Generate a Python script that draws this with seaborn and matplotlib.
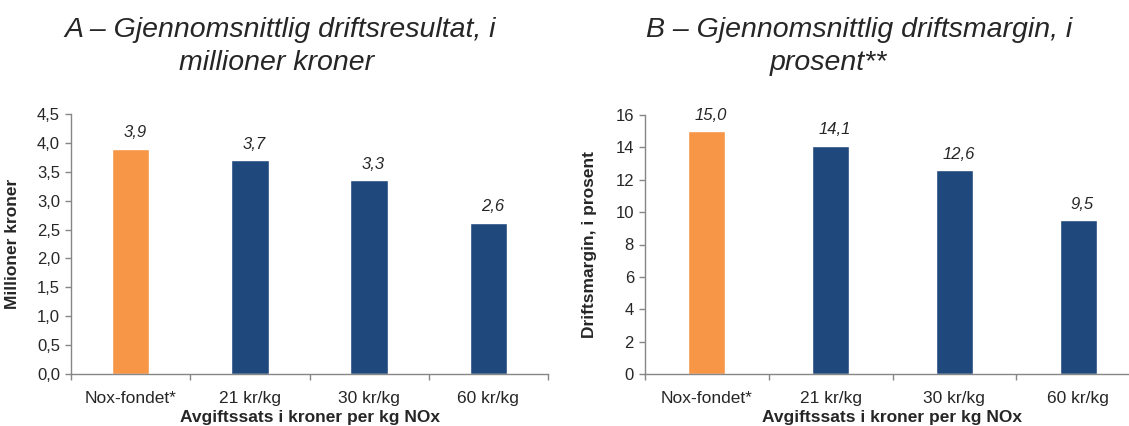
import matplotlib
matplotlib.use("Agg")
import matplotlib.pyplot as plt
import seaborn as sns
import pandas as pd

categories = ["Nox-fondet*", "21 kr/kg", "30 kr/kg", "60 kr/kg"]
resultat = [3.9, 3.7, 3.35, 2.62]
resultat_labels = ["3,9", "3,7", "3,3", "2,6"]
margin = [15.0, 14.1, 12.6, 9.5]
margin_labels = ["15,0", "14,1", "12,6", "9,5"]
colors = ["#F79646", "#1F497D", "#1F497D", "#1F497D"]

sns.set_theme(style="white")
plt.rcParams["font.family"] = ["Liberation Sans", "DejaVu Sans"]

W, H = 1129, 426
fig = plt.figure(figsize=(W / 100, H / 100), dpi=100)

axA = fig.add_axes([71 / W, 1 - 374 / H, 477 / W, 260 / H])
axB = fig.add_axes([645 / W, 1 - 374 / H, 495 / W, 259 / H])

gray = "#868686"


def draw(ax, vals, labels, ylim, yticks, yfmt, ylabel, width):
    df = pd.DataFrame({"cat": categories, "val": vals})
    sns.barplot(data=df, x="cat", y="val", hue="cat", palette=colors,
                width=width, legend=False, ax=ax, saturation=1)
    ax.set_xlim(-0.5, 3.5)
    ax.set_ylim(*ylim)
    ax.set_yticks(yticks)
    ax.set_yticklabels([yfmt(t) for t in yticks], fontsize=12)
    ax.set_xticks(range(len(categories)))
    ax.set_xticklabels(categories, fontsize=12.5)
    ax.set_xticks([-0.5, 0.5, 1.5, 2.5, 3.5], minor=True)
    ax.tick_params(axis="x", which="major", length=0, pad=12.5)
    ax.tick_params(axis="x", which="minor", length=4, width=1, color=gray,
                   direction="out", bottom=True)
    ax.tick_params(axis="y", which="major", length=4, width=1, color=gray,
                   direction="out", left=True, pad=4)
    for s in ["top", "right"]:
        ax.spines[s].set_visible(False)
    for s in ["left", "bottom"]:
        ax.spines[s].set_color(gray)
        ax.spines[s].set_linewidth(1)
    ax.set_xlabel("Avgiftssats i kroner per kg NOx", fontsize=12.5,
                  fontweight="bold", labelpad=2.5)
    ax.set_ylabel(ylabel, fontsize=12.5, fontweight="bold")
    for i, (v, lab) in enumerate(zip(vals, labels)):
        ax.annotate(lab, (i, v), xytext=(3, 11.5), textcoords="offset points",
                    ha="center", va="center", fontsize=12, style="italic")


draw(axA, resultat, resultat_labels, (0, 4.5),
     [0, 0.5, 1, 1.5, 2, 2.5, 3, 3.5, 4, 4.5],
     lambda t: f"{t:.1f}".replace(".", ","), "Millioner kroner", 0.315)
axA.yaxis.set_label_coords((20 - 71) / 477, 0.5)

draw(axB, margin, margin_labels, (0, 16), list(range(0, 17, 2)),
     lambda t: f"{t:d}", "Driftsmargin, i prosent", 0.30)
axB.yaxis.set_label_coords((597 - 645) / 495, 0.5)

fig.text(280 / W, 1 - 30 / H, "A – Gjennomsnittlig driftsresultat, i",
         ha="center", va="center", fontsize=20.5, style="italic")
fig.text(277 / W, 1 - 63 / H, "millioner kroner",
         ha="center", va="center", fontsize=20.5, style="italic")
fig.text(859 / W, 1 - 30 / H, "B – Gjennomsnittlig driftsmargin, i",
         ha="center", va="center", fontsize=20.5, style="italic")
fig.text(828 / W, 1 - 63 / H, "prosent**",
         ha="center", va="center", fontsize=20.5, style="italic")

fig.savefig("out.png", dpi=100)
